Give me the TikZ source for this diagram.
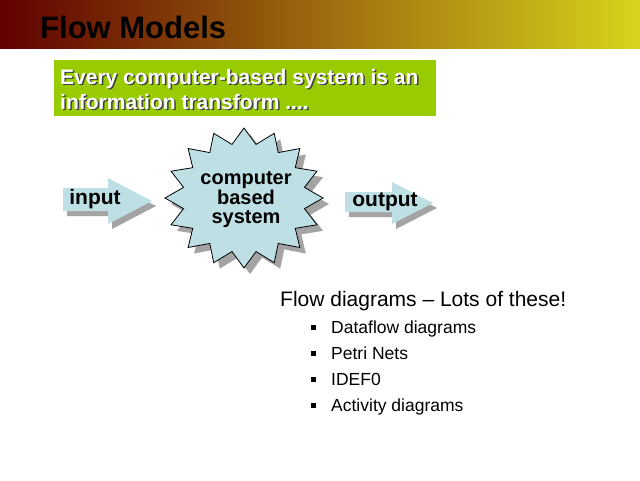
\documentclass[tikz,border=0pt]{standalone}
\usepackage{fontspec}
\setmainfont{Liberation Sans}
\usetikzlibrary{calc,positioning}

\definecolor{hdrleft}{HTML}{600000}
\definecolor{hdrright}{HTML}{D8D41C}
\definecolor{boxgreen}{HTML}{99CC00}
\definecolor{paleblue}{HTML}{BEE0E4}
\definecolor{shadowgray}{HTML}{A4A4A4}

\tikzset{
  bigbold/.style={font=\fontsize{21}{25}\selectfont\bfseries,inner sep=0pt},
  starword/.style={font=\fontsize{20}{20}\selectfont\bfseries,inner sep=0pt,anchor=base},
  plain/.style={font=\fontsize{21}{25}\selectfont,anchor=base west,inner sep=0pt},
  small/.style={font=\fontsize{17.5}{21}\selectfont,anchor=base west,inner sep=0pt},
  sqbullet/.style={fill=black,minimum size=5pt,inner sep=0pt},
  blockarrow/.style={fill=paleblue},
  dropshade/.style={fill=shadowgray}
}

\begin{document}
\begin{tikzpicture}[x=1pt,y=-1pt]
\useasboundingbox[fill=white] (0,0) rectangle (640,480);

% title band
\shade[left color=hdrleft,right color=hdrright] (0,0) rectangle (640,48);
\node (title) at (40,38) [anchor=base west,inner sep=0pt,font=\fontsize{31}{36}\selectfont\bfseries] {Flow Models};

% green statement box
\node (box) at (245,88) [fill=boxgreen,minimum width=382pt,minimum height=56pt,inner sep=0pt] {};
\node (l1s) at (61.5,85.5) [bigbold,anchor=base west,black!75] {Every computer-based system is an};
\node (l1) at (60,84) [bigbold,anchor=base west,white] {Every computer-based system is an};
\node (l2s) at (61.5,110.5) [bigbold,anchor=base west,black!75] {information transform ....};
\node (l2) at (60,109) [bigbold,anchor=base west,white] {information transform ....};

% input arrow
\fill[dropshade,shift={(4,5)}] (63,188) -- (108,188) -- (108,178) -- (152,201) -- (108,224) -- (108,211) -- (63,211) -- cycle;
\fill[blockarrow] (63,188) -- (108,188) -- (108,178) -- (152,201) -- (108,224) -- (108,211) -- (63,211) -- cycle;
\node (in) at (95,199.5) [bigbold] {input};

% the system starburst
\fill[dropshade,shift={(6,6)}] plot[samples at={0,...,32},variable=\k] ({244+79*(1-0.22*mod(\k,2))*cos(90+11.25*\k)},{198-70*(1-0.22*mod(\k,2))*sin(90+11.25*\k)}) -- cycle;
\draw[fill=paleblue,thick,line join=miter] plot[samples at={0,...,32},variable=\k] ({244+79*(1-0.22*mod(\k,2))*cos(90+11.25*\k)},{198-70*(1-0.22*mod(\k,2))*sin(90+11.25*\k)}) -- cycle;
\node (sys1) at (246,184.5) [starword] {computer};
\node (sys2) at (246,204) [starword] {based};
\node (sys3) at (246,223.5) [starword] {system};

% output arrow
\fill[dropshade,shift={(4,5)}] (345,192) -- (392,192) -- (392,182) -- (433,203) -- (392,224) -- (392,212) -- (345,212) -- cycle;
\fill[blockarrow] (345,192) -- (392,192) -- (392,182) -- (433,203) -- (392,224) -- (392,212) -- (345,212) -- cycle;
\node (out) at (385,202) [bigbold] {output};

% flow diagram list
\node (flow) at (280,306) [plain] {Flow diagrams -- Lots of these!};
\node (b1) at (313,327) [sqbullet] {};
\node (t1) at (331,333) [small] {Dataflow diagrams};
\node (b2) at (313,353) [sqbullet] {};
\node (t2) at (331,359) [small] {Petri Nets};
\node (b3) at (313,379) [sqbullet] {};
\node (t3) at (331,385) [small] {IDEF0};
\node (b4) at (313,405) [sqbullet] {};
\node (t4) at (331,411) [small] {Activity diagrams};
\end{tikzpicture}
\end{document}
